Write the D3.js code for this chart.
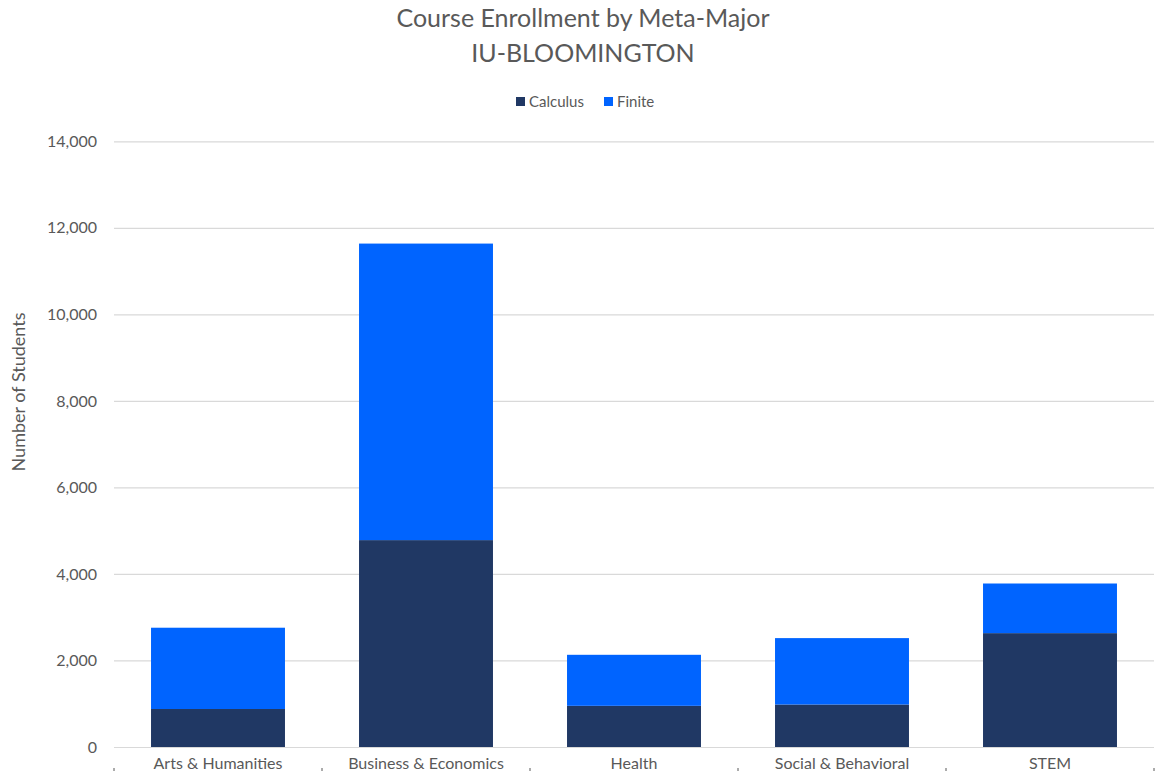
<!DOCTYPE html>
<html>
<head>
<meta charset="utf-8">
<script src="https://cdn.jsdelivr.net/npm/d3@7"></script>
<style>
  html, body { margin: 0; padding: 0; background: #fff; }
  svg { display: block; }
  text { font-family: Lato, "Open Sans", sans-serif; fill: #595959; }
</style>
</head>
<body>
<svg id="chart" width="1165" height="772"></svg>
<script>
const categories = ["Arts & Humanities", "Business & Economics", "Health", "Social & Behavioral", "STEM"];
const seriesNames = ["Calculus", "Finite"];
const calculus = [878, 4782, 952, 982, 2632];
const finite = [1879, 6854, 1179, 1535, 1147];
const yTicks = [0, 2000, 4000, 6000, 8000, 10000, 12000, 14000];
const colors = ["#203864", "#0064FF"];

const svg = d3.select("#chart");
const W = 1165, H = 772;
const margin = { left: 114, right: 11 };
const x = d3.scaleBand().domain(categories).range([margin.left, W - margin.right]).paddingInner(0.356).paddingOuter(0.178);
const y = d3.scaleLinear().domain([0, 14000]).range([747, 141.3]);

// gridlines + y labels
const gAxisY = svg.append("g").attr("transform", `translate(${margin.left},0)`)
  .call(d3.axisLeft(y).tickValues(yTicks).tickSize(-(W - margin.right - margin.left)).tickFormat(d3.format(",")).tickPadding(17));
gAxisY.select(".domain").remove();
gAxisY.selectAll(".tick line").attr("stroke", "#d9d9d9").attr("stroke-width", 1.2);
gAxisY.selectAll(".tick text").style("font-size", "16px").style("font-family", "Lato, sans-serif").attr("fill", "#595959");

// stacked bars
const rows = categories.map((c, i) => ({ cat: c, Calculus: calculus[i], Finite: finite[i] }));
const stack = d3.stack().keys(seriesNames)(rows);

svg.append("g").selectAll("g").data(stack).join("g")
  .attr("fill", (d, i) => colors[i])
  .selectAll("rect").data(d => d).join("rect")
  .attr("x", d => x(d.data.cat))
  .attr("width", x.bandwidth())
  .attr("y", d => y(d[1]))
  .attr("height", d => y(d[0]) - y(d[1]));

// x axis labels
const gx = svg.append("g").attr("transform", "translate(0,747)")
  .call(d3.axisBottom(x).tickSize(0).tickPadding(11));
gx.select(".domain").remove();
gx.selectAll(".tick text").style("font-size", "16px").style("font-family", "Lato, sans-serif").attr("fill", "#595959");

// separator ticks at band boundaries
const step = x.step();
const bounds = d3.range(categories.length + 1).map(i => margin.left + i * step);
svg.append("g").selectAll("line").data(bounds).join("line")
  .attr("x1", d => d).attr("x2", d => d)
  .attr("y1", 768).attr("y2", 771)
  .attr("stroke", "#595959").attr("stroke-width", 1);

// y axis title
svg.append("text")
  .attr("transform", "translate(25,392) rotate(-90)")
  .attr("text-anchor", "middle")
  .style("font-size", "18px")
  .text("Number of Students");

// title
svg.append("text").attr("x", 583).attr("y", 27).attr("text-anchor", "middle")
  .style("font-size", "25px").text("Course Enrollment by Meta-Major");
svg.append("text").attr("x", 583).attr("y", 62).attr("text-anchor", "middle")
  .style("font-size", "25px").text("IU-BLOOMINGTON");

// legend
const legend = svg.append("g");
const legendItems = [{ name: seriesNames[0], x: 516 }, { name: seriesNames[1], x: 604 }];
legendItems.forEach((it, i) => {
  legend.append("rect").attr("x", it.x).attr("y", 97).attr("width", 9).attr("height", 9).attr("fill", colors[i]);
  legend.append("text").attr("x", it.x + 13).attr("y", 107).style("font-size", "15px").text(it.name);
});
</script>
</body>
</html>
